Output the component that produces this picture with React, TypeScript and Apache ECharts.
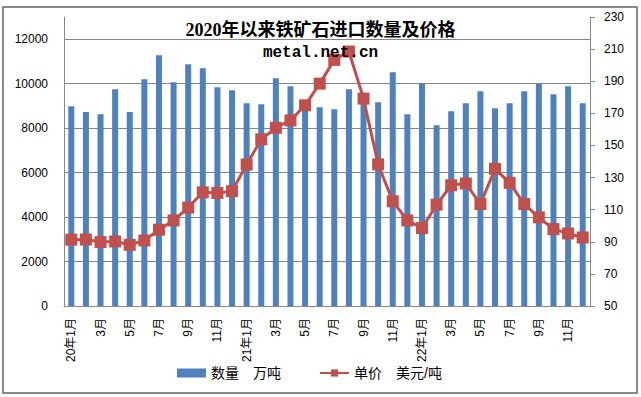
import React, { useEffect, useRef } from "react";
import * as echarts from "echarts";

const titleText = "2020年以来铁矿石进口数量及价格";
const subtitleText = "metal.net.cn";
const volumeName = "数量　万吨";
const priceName = "单价　美元/吨";

const months = ["1月", "2月", "3月", "4月", "5月", "6月", "7月", "8月", "9月", "10月", "11月", "12月"];
const years = ["20年", "21年", "22年"];
const categories: string[] = [];
years.forEach((y) => months.forEach((m, i) => categories.push(i === 0 ? y + m : m)));

const volume = [
  8990, 8730, 8630, 9750, 8730, 10200, 11280, 10070, 10880, 10700, 9840, 9710,
  9120, 9080, 10250, 9890, 9000, 8940, 8850, 9750, 9570, 9170, 10520, 8630,
  10010, 8130, 8760, 9120, 9660, 8900, 9120, 9660, 9990, 9530, 9890, 9120,
];

const price = [
  91.3, 91.4, 89.8, 90.2, 88.1, 90.8, 97.5, 103.3, 111.3, 120.8, 120.4, 121.5,
  138.1, 153.8, 161.0, 165.6, 175.0, 188.5, 203.3, 208.5, 179.2, 138.2, 115.2, 103.3,
  98.5, 113.1, 125.2, 126.3, 113.5, 135.4, 126.7, 113.5, 105.2, 97.9, 95.2, 92.7,
];

const leftMin = 0;
const leftMax = 13000;
const leftStep = 2000;
const rightMin = 50;
const rightMax = 230;
const rightStep = 20;

const sansFont = "'Liberation Sans', 'Noto Sans CJK SC', sans-serif";

export default function App() {
  const ref = useRef<HTMLDivElement>(null);
  useEffect(() => {
    if (!ref.current) return;
    const chart = echarts.init(ref.current, null, { renderer: "svg" });
    chart.setOption({
      animation: false,
      backgroundColor: "#ffffff",
      title: [
        {
          text: titleText,
          left: "center",
          top: 21,
          padding: 0,
          textStyle: {
            fontFamily: "'Liberation Serif', 'Noto Sans CJK SC', serif",
            fontWeight: "bold",
            fontSize: 18,
            lineHeight: 18,
            color: "#000",
          },
        },
        {
          text: subtitleText,
          left: "center",
          top: 45,
          padding: 0,
          textStyle: {
            fontFamily: "'Liberation Mono', monospace",
            fontWeight: "bold",
            fontSize: 16,
            lineHeight: 16,
            color: "#000",
          },
        },
      ],
      graphic: [
        {
          type: "rect",
          shape: { x: 3, y: 7, width: 634, height: 386 },
          style: { fill: "none", stroke: "#888888", lineWidth: 2 },
          silent: true,
          z: 0,
        },
      ],
      legend: {
        left: 177,
        top: 366,
        itemWidth: 29,
        itemHeight: 9,
        itemGap: 38,
        padding: 0,
        textStyle: { fontFamily: sansFont, fontSize: 14, color: "#000" },
        data: [
          { name: volumeName, icon: "rect" },
          { name: priceName },
        ],
      },
      grid: { left: 64, right: 51, top: 17, bottom: 91, containLabel: false },
      xAxis: {
        type: "category",
        data: categories,
        boundaryGap: true,
        axisLine: { show: true, lineStyle: { color: "#888888", width: 1 } },
        axisTick: { show: false },
        axisLabel: {
          interval: 1,
          rotate: 90,
          margin: 12,
          fontFamily: sansFont,
          fontSize: 12,
          color: "#000",
        },
      },
      yAxis: [
        {
          type: "value",
          min: leftMin,
          max: leftMax,
          interval: leftStep,
          position: "left",
          axisLine: { show: true, lineStyle: { color: "#888888", width: 1 } },
          axisTick: { show: false },
          axisLabel: {
            margin: 16,
            fontFamily: sansFont,
            fontSize: 12,
            color: "#000",
            showMaxLabel: true,
            formatter: (v: number) => (v > 12000 ? "" : String(v)),
          },
          splitLine: { show: true, showMaxLine: false, lineStyle: { color: "#868686", width: 1 } },
        },
        {
          type: "value",
          min: rightMin,
          max: rightMax,
          interval: rightStep,
          position: "right",
          axisLine: { show: true, lineStyle: { color: "#888888", width: 1 } },
          axisTick: { show: true, inside: false, length: 5, lineStyle: { color: "#888888" } },
          axisLabel: { margin: 14, fontFamily: sansFont, fontSize: 12, color: "#000" },
          splitLine: { show: false },
        },
      ],
      series: [
        {
          name: volumeName,
          type: "bar",
          data: volume,
          yAxisIndex: 0,
          barWidth: 6,
          itemStyle: { color: "#4F81BD" },
        },
        {
          name: priceName,
          type: "line",
          data: price,
          yAxisIndex: 1,
          symbol: "rect",
          symbolSize: 12,
          showAllSymbol: true,
          lineStyle: { color: "#C0504D", width: 3 },
          itemStyle: { color: "#C0504D" },
        },
      ],
    });
    return () => chart.dispose();
  }, []);
  return (
    <div
      ref={ref}
      style={{ position: "absolute", left: 0, top: 0, width: 641, height: 397 }}
    />
  );
}
